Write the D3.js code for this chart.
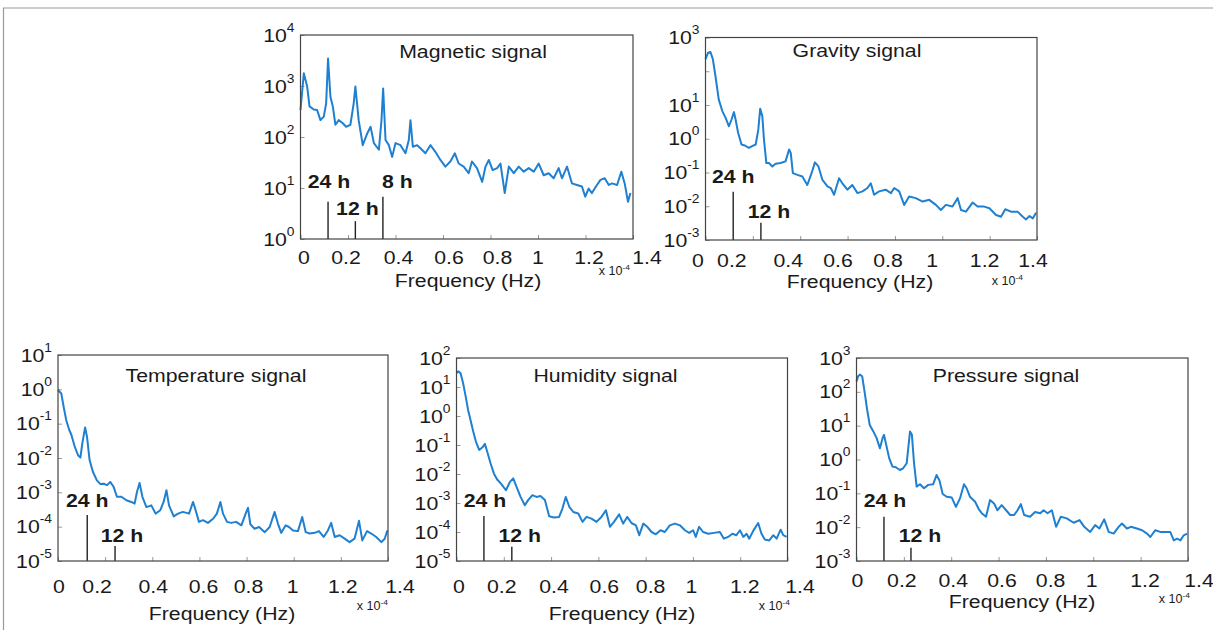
<!DOCTYPE html>
<html><head><meta charset="utf-8">
<script src="https://cdn.jsdelivr.net/npm/d3@7"></script>
<style>
body{margin:0;background:#fff;}
text{font-family:"Liberation Sans",Arial,Helvetica,sans-serif;}
</style>
</head><body>
<svg id="c" width="1213" height="630"></svg>
<script>
// ---------- DATA (frequency in units of 1e-4 Hz, power as log10 exponent) ----------
const xTicks = [0, 0.2, 0.4, 0.6, 0.8, 1, 1.2, 1.4];
const xTickLabels = ["0", "0.2", "0.4", "0.6", "0.8", "1", "1.2", "1.4"];

const magneticFreq = [0,0.014,0.028,0.038,0.056,0.070,0.084,0.098,0.108,0.116,0.126,0.136,0.147,0.161,0.178,0.192,0.210,0.224,0.231,0.245,0.262,0.281,0.295,0.309,0.330,0.341,0.348,0.358,0.372,0.386,0.400,0.421,0.442,0.456,0.463,0.473,0.491,0.505,0.526,0.547,0.568,0.589,0.610,0.631,0.650,0.666,0.687,0.708,0.722,0.743,0.765,0.779,0.793,0.809,0.828,0.842,0.860,0.877,0.898,0.919,0.940,0.961,0.982,1.003,1.024,1.045,1.066,1.087,1.101,1.122,1.143,1.164,1.185,1.199,1.213,1.227,1.244,1.263,1.281,1.298,1.312,1.333,1.351,1.365,1.379,1.389];
const magneticLog10 = [2.53,3.25,2.99,2.6,2.54,2.53,2.33,2.4,2.66,3.54,2.79,2.6,2.24,2.33,2.27,2.2,2.24,2.66,2.99,2.33,1.84,2.07,2.2,1.88,1.75,2.33,2.95,1.94,1.84,1.61,1.88,1.84,1.68,1.94,2.33,1.81,1.84,1.78,1.68,1.84,1.71,1.55,1.42,1.52,1.68,1.48,1.42,1.29,1.52,1.39,1.12,1.42,1.55,1.35,1.39,1.48,0.9,1.42,1.29,1.42,1.32,1.39,1.32,1.48,1.25,1.29,1.19,1.39,1.19,1.42,1.09,1.06,1.03,0.83,0.99,0.9,1.03,1.16,1.19,1.06,1.09,1.06,1.32,1.09,0.73,0.9];

const gravityFreq = [0,0.011,0.021,0.031,0.042,0.056,0.071,0.085,0.099,0.110,0.120,0.127,0.138,0.152,0.166,0.183,0.197,0.212,0.223,0.231,0.240,0.247,0.257,0.268,0.282,0.296,0.317,0.338,0.353,0.360,0.369,0.388,0.409,0.430,0.448,0.462,0.477,0.494,0.515,0.529,0.543,0.564,0.578,0.599,0.620,0.642,0.663,0.684,0.698,0.712,0.733,0.761,0.783,0.797,0.818,0.839,0.860,0.888,0.917,0.945,0.973,0.994,1.015,1.043,1.065,1.079,1.100,1.128,1.149,1.177,1.199,1.227,1.248,1.266,1.290,1.318,1.340,1.354,1.368,1.382,1.396];
const gravityLog10 = [2.36,2.55,2.57,2.36,1.86,1.16,0.82,0.62,0.37,0.57,0.79,0.57,0.17,-0.17,-0.2,-0.27,-0.22,-0.17,0.27,0.89,0.67,-0.03,-0.72,-0.72,-0.82,-0.74,-0.72,-0.67,-0.32,-0.42,-1.02,-1.07,-1.12,-1.37,-1.02,-0.70,-0.82,-1.22,-1.41,-1.46,-1.66,-1.17,-1.32,-1.51,-1.37,-1.61,-1.56,-1.46,-1.32,-1.66,-1.56,-1.51,-1.61,-1.46,-1.56,-1.96,-1.71,-1.76,-1.86,-1.81,-1.96,-2.11,-1.96,-2.01,-1.76,-2.11,-2.16,-1.89,-2.01,-2.01,-2.06,-2.26,-2.31,-2.09,-2.16,-2.16,-2.31,-2.39,-2.29,-2.36,-2.19];

const temperatureFreq = [0,0.007,0.014,0.024,0.035,0.047,0.057,0.071,0.085,0.095,0.103,0.115,0.123,0.134,0.148,0.165,0.180,0.194,0.208,0.222,0.236,0.250,0.269,0.290,0.311,0.325,0.335,0.346,0.358,0.375,0.396,0.414,0.434,0.448,0.460,0.471,0.491,0.509,0.530,0.556,0.573,0.580,0.598,0.615,0.636,0.658,0.674,0.689,0.700,0.717,0.735,0.756,0.778,0.796,0.806,0.816,0.834,0.853,0.877,0.898,0.919,0.933,0.947,0.966,0.980,0.997,1.018,1.036,1.051,1.068,1.089,1.107,1.127,1.145,1.159,1.174,1.195,1.216,1.237,1.258,1.277,1.291,1.311,1.329,1.350,1.372,1.386,1.397];
const temperatureLog10 = [-0.02,-0.07,-0.12,-0.51,-0.9,-1.17,-1.33,-1.67,-1.92,-1.99,-1.58,-1.11,-1.38,-2.06,-2.4,-2.65,-2.76,-2.75,-2.79,-2.7,-2.84,-3.13,-3.13,-3.23,-3.28,-3.33,-2.99,-2.73,-3.13,-3.43,-3.38,-3.62,-3.52,-3.28,-2.94,-3.38,-3.7,-3.62,-3.57,-3.62,-3.28,-3.43,-3.86,-3.81,-3.89,-3.77,-3.62,-3.28,-3.62,-3.86,-3.89,-3.86,-3.96,-3.62,-3.45,-3.93,-4.06,-4.01,-4.16,-4.01,-3.57,-3.91,-4.18,-3.96,-4.01,-4.11,-4.13,-3.72,-4.16,-4.2,-4.18,-4.13,-4.3,-4.11,-3.89,-4.3,-4.25,-4.35,-4.45,-4.35,-3.83,-4.4,-4.13,-4.2,-4.3,-4.45,-4.35,-4.11];

const humidityFreq = [0,0.007,0.017,0.028,0.039,0.049,0.059,0.071,0.082,0.096,0.110,0.120,0.130,0.144,0.158,0.172,0.190,0.209,0.226,0.240,0.254,0.271,0.289,0.303,0.321,0.338,0.355,0.374,0.392,0.412,0.434,0.448,0.462,0.477,0.494,0.515,0.533,0.550,0.571,0.592,0.613,0.632,0.649,0.666,0.688,0.705,0.722,0.740,0.759,0.773,0.790,0.807,0.825,0.843,0.863,0.881,0.902,0.924,0.945,0.966,0.984,1.001,1.012,1.026,1.043,1.065,1.089,1.114,1.131,1.149,1.167,1.184,1.199,1.213,1.227,1.238,1.255,1.276,1.290,1.304,1.323,1.340,1.354,1.371,1.382,1.396];
const humidityLog10 = [1.48,1.54,1.48,1.13,0.67,0.21,-0.13,-0.54,-0.88,-1.17,-1.08,-0.96,-1.23,-1.63,-1.98,-2.19,-2.35,-2.56,-2.27,-2.15,-2.44,-2.79,-3.08,-2.9,-2.73,-2.79,-2.76,-2.9,-3.46,-3.5,-3.48,-3.19,-2.79,-3.13,-3.31,-3.36,-3.65,-3.48,-3.54,-3.65,-3.48,-3.25,-3.82,-3.65,-3.39,-3.71,-3.48,-3.69,-3.77,-4.11,-3.71,-3.82,-4.0,-4.08,-3.94,-4.0,-3.77,-3.71,-3.77,-3.94,-4.03,-3.94,-4.17,-3.82,-4.0,-4.06,-4.03,-4.0,-4.23,-4.17,-4.06,-4.11,-3.94,-4.17,-4.06,-4.23,-3.96,-3.69,-4.06,-4.26,-4.29,-4.11,-4.23,-3.92,-4.11,-4.17];

const pressureFreq = [0,0.007,0.014,0.024,0.035,0.045,0.056,0.071,0.085,0.099,0.110,0.116,0.124,0.138,0.152,0.166,0.183,0.197,0.212,0.226,0.234,0.243,0.254,0.268,0.285,0.303,0.324,0.338,0.350,0.364,0.381,0.402,0.420,0.437,0.454,0.465,0.479,0.501,0.515,0.529,0.547,0.564,0.581,0.595,0.613,0.632,0.649,0.666,0.680,0.694,0.708,0.733,0.754,0.776,0.790,0.807,0.825,0.843,0.863,0.888,0.917,0.942,0.962,0.987,1.008,1.026,1.046,1.065,1.086,1.107,1.121,1.142,1.159,1.184,1.206,1.227,1.241,1.262,1.283,1.304,1.325,1.340,1.354,1.368,1.382,1.396];
const pressureLog10 = [2.31,2.46,2.51,2.46,1.96,1.47,1.02,0.83,0.63,0.33,0.63,0.73,0.48,0.04,-0.21,-0.23,-0.31,-0.26,-0.11,0.83,0.73,-0.11,-0.8,-0.73,-0.85,-0.75,-0.73,-0.46,-0.61,-1.02,-1.1,-1.12,-1.4,-1.15,-0.73,-0.85,-1.1,-1.25,-1.45,-1.59,-1.69,-1.2,-1.3,-1.5,-1.35,-1.5,-1.64,-1.64,-1.5,-1.32,-1.64,-1.69,-1.55,-1.59,-1.5,-1.59,-1.5,-1.99,-1.69,-1.74,-1.87,-1.79,-1.99,-2.14,-1.94,-2.04,-1.77,-2.14,-2.19,-1.99,-1.89,-2.04,-1.99,-2.04,-2.09,-2.19,-2.29,-2.09,-2.14,-2.14,-2.14,-2.39,-2.34,-2.39,-2.24,-2.19];

// period markers: label, frequency (1e-4 Hz), top of marker (log10)
const magneticMarkers = [{label:"24 h", f:0.116, top:0.73}, {label:"12 h", f:0.231, top:0.35}, {label:"8 h", f:0.347, top:0.83}];
const gravityMarkers = [{label:"24 h", f:0.117, top:-1.57}, {label:"12 h", f:0.234, top:-2.49}];
const temperatureMarkers = [{label:"24 h", f:0.124, top:-3.66}, {label:"12 h", f:0.242, top:-4.56}];
const humidityMarkers = [{label:"24 h", f:0.116, top:-3.45}, {label:"12 h", f:0.234, top:-4.51}];
const pressureMarkers = [{label:"24 h", f:0.116, top:-1.69}, {label:"12 h", f:0.230, top:-2.61}];

// ---------- LAYOUT ----------
const panels = [
  {title:"Magnetic signal", freq:magneticFreq, val:magneticLog10, markers:magneticMarkers,
   yDomain:[0,4], yTicks:[0,1,2,3,4], yLabels:[0,1,2,3,4],
   box:{x:300.5,y:35,w:332.5,h:204}, titleDX:172.5, titleY:22.5, tickY:24.5, tickDX:[3.5,-2,3,6,7,0,3.5,14],
   xlabDX:167.5, xlabY:48, expX:-3, expY:36,
   labelPos:[{ly:1.0, dx:1, anchor:"middle"}, {ly:0.47, dx:2, anchor:"middle"}, {ly:1.0, dx:-1, anchor:"start"}]},
  {title:"Gravity signal", freq:gravityFreq, val:gravityLog10, markers:gravityMarkers,
   yDomain:[-3,3], yTicks:[-3,-2,-1,0,1,2,3], yLabels:[-3,-2,-1,0,1,3],
   box:{x:705.5,y:37.5,w:331.5,h:202.5}, titleDX:151.5, titleY:19.5, tickY:27, tickDX:[-7.5,-21,-12,-9.6,-7,-10,-5,-4],
   xlabDX:154.5, xlabY:48, expX:-14, expY:45,
   labelPos:[{ly:-1.31, dx:0, anchor:"middle"}, {ly:-2.35, dx:8, anchor:"middle"}]},
  {title:"Temperature signal", freq:temperatureFreq, val:temperatureLog10, markers:temperatureMarkers,
   yDomain:[-5,1], yTicks:[-5,-4,-3,-2,-1,0,1], yLabels:[-5,-4,-3,-2,-1,0,1],
   box:{x:58,y:355,w:330,h:206}, titleDX:158, titleY:26.7, tickY:32, tickDX:[1,-8,1,4,2,-1,2,12],
   xlabDX:164, xlabY:59, expX:0, expY:49,
   labelPos:[{ly:-3.42, dx:0, anchor:"middle"}, {ly:-4.44, dx:7, anchor:"middle"}]},
  {title:"Humidity signal", freq:humidityFreq, val:humidityLog10, markers:humidityMarkers,
   yDomain:[-5,2], yTicks:[-5,-4,-3,-2,-1,0,1,2], yLabels:[-5,-4,-3,-2,-1,0,1,2],
   box:{x:456.5,y:358,w:331,h:203}, titleDX:149, titleY:23.7, tickY:32, tickDX:[2.5,-2,3,6,5,-1.5,4.6,12.5],
   xlabDX:165.5, xlabY:59, expX:2.5, expY:49,
   labelPos:[{ly:-3.13, dx:1, anchor:"middle"}, {ly:-4.33, dx:8, anchor:"middle"}]},
  {title:"Pressure signal", freq:pressureFreq, val:pressureLog10, markers:pressureMarkers,
   yDomain:[-3,3], yTicks:[-3,-2,-1,0,1,2,3], yLabels:[-3,-2,-1,0,1,2,3],
   box:{x:856.5,y:358,w:331.5,h:203}, titleDX:149.5, titleY:23.7, tickY:26, tickDX:[1,-2,2,3.5,4.7,-1.6,4.3,11],
   xlabDX:165.5, xlabY:47, expX:2, expY:42,
   labelPos:[{ly:-1.41, dx:1, anchor:"middle"}, {ly:-2.44, dx:9, anchor:"middle"}]}
];

const SX = 1.15;            // horizontal text stretch of the original figure
const FS = 18.5;
const INK = "#1a1a1a";
const LINE = "#1f80d2";

const svg = d3.select("#c");

// outer frame
svg.append("line").attr("x1",3).attr("x2",1213).attr("y1",8).attr("y2",8).attr("stroke","#9a9a9a").attr("stroke-width",1.2);
svg.append("line").attr("x1",3.5).attr("x2",3.5).attr("y1",8).attr("y2",630).attr("stroke","#9a9a9a").attr("stroke-width",1.2);

function txt(g, x, y, str, size, anchor, weight){
  return g.append("text")
    .attr("transform", `translate(${x},${y}) scale(${SX},1)`)
    .attr("text-anchor", anchor || "middle")
    .attr("font-size", size)
    .attr("font-weight", weight || "normal")
    .attr("fill", INK)
    .text(str);
}

panels.forEach(p => {
  const b = p.box;
  const g = svg.append("g").attr("transform", `translate(${b.x},${b.y})`);
  const x = d3.scaleLinear().domain([0, 1.4]).range([0, b.w]);
  const y = d3.scaleLinear().domain(p.yDomain).range([b.h, 0]);

  // tick marks (inside)
  const xa = g.append("g").attr("transform", `translate(0,${b.h})`)
    .call(d3.axisBottom(x).tickValues(xTicks).tickSize(-4).tickFormat(""));
  const ya = g.append("g").call(d3.axisLeft(y).tickValues(p.yTicks).tickSize(-4).tickFormat(""));
  [xa, ya].forEach(a => { a.select(".domain").remove(); a.selectAll("line").attr("stroke", "#999"); });

  // x tick labels
  xTicks.forEach((t, i) => txt(g, x(t) + p.tickDX[i], b.h + p.tickY, xTickLabels[i], FS));

  // y tick labels 10^n
  p.yLabels.forEach(v => {
    const t = g.append("text")
      .attr("transform", `translate(-6,${y(v) + 6.5}) scale(${SX},1)`)
      .attr("text-anchor", "end").attr("font-size", FS).attr("fill", INK);
    t.append("tspan").text("10");
    t.append("tspan").attr("font-size", 12).attr("dy", -10).text(String(v));
  });

  // data line
  const pts = p.freq.map((f, i) => [f, p.val[i]]);
  g.append("path").datum(pts)
    .attr("fill", "none").attr("stroke", LINE).attr("stroke-width", 2).attr("stroke-linejoin", "round")
    .attr("d", d3.line().x(d => x(d[0])).y(d => y(d[1])));

  // period markers
  p.markers.forEach((m, i) => {
    g.append("line").attr("x1", x(m.f)).attr("x2", x(m.f)).attr("y1", y(m.top)).attr("y2", b.h)
      .attr("stroke", "#222").attr("stroke-width", 1.4);
    const lp = p.labelPos[i];
    txt(g, x(m.f) + lp.dx, y(lp.ly), m.label, FS, lp.anchor, "bold");
  });

  // box
  g.append("rect").attr("x", 0).attr("y", 0).attr("width", b.w).attr("height", b.h)
    .attr("fill", "none").attr("stroke", "#444").attr("stroke-width", 1.2);

  // title
  txt(g, p.titleDX, p.titleY, p.title, FS);
  // axis label
  txt(g, p.xlabDX, b.h + p.xlabY, "Frequency (Hz)", FS);
  // exponent label
  const e = g.append("text")
    .attr("transform", `translate(${b.w + p.expX},${b.h + p.expY}) scale(1.05,1)`)
    .attr("text-anchor", "end").attr("font-size", 12).attr("fill", INK);
  e.append("tspan").text("x 10");
  e.append("tspan").attr("font-size", 8).attr("dy", -5).text("-4");
});
</script>
</body></html>
